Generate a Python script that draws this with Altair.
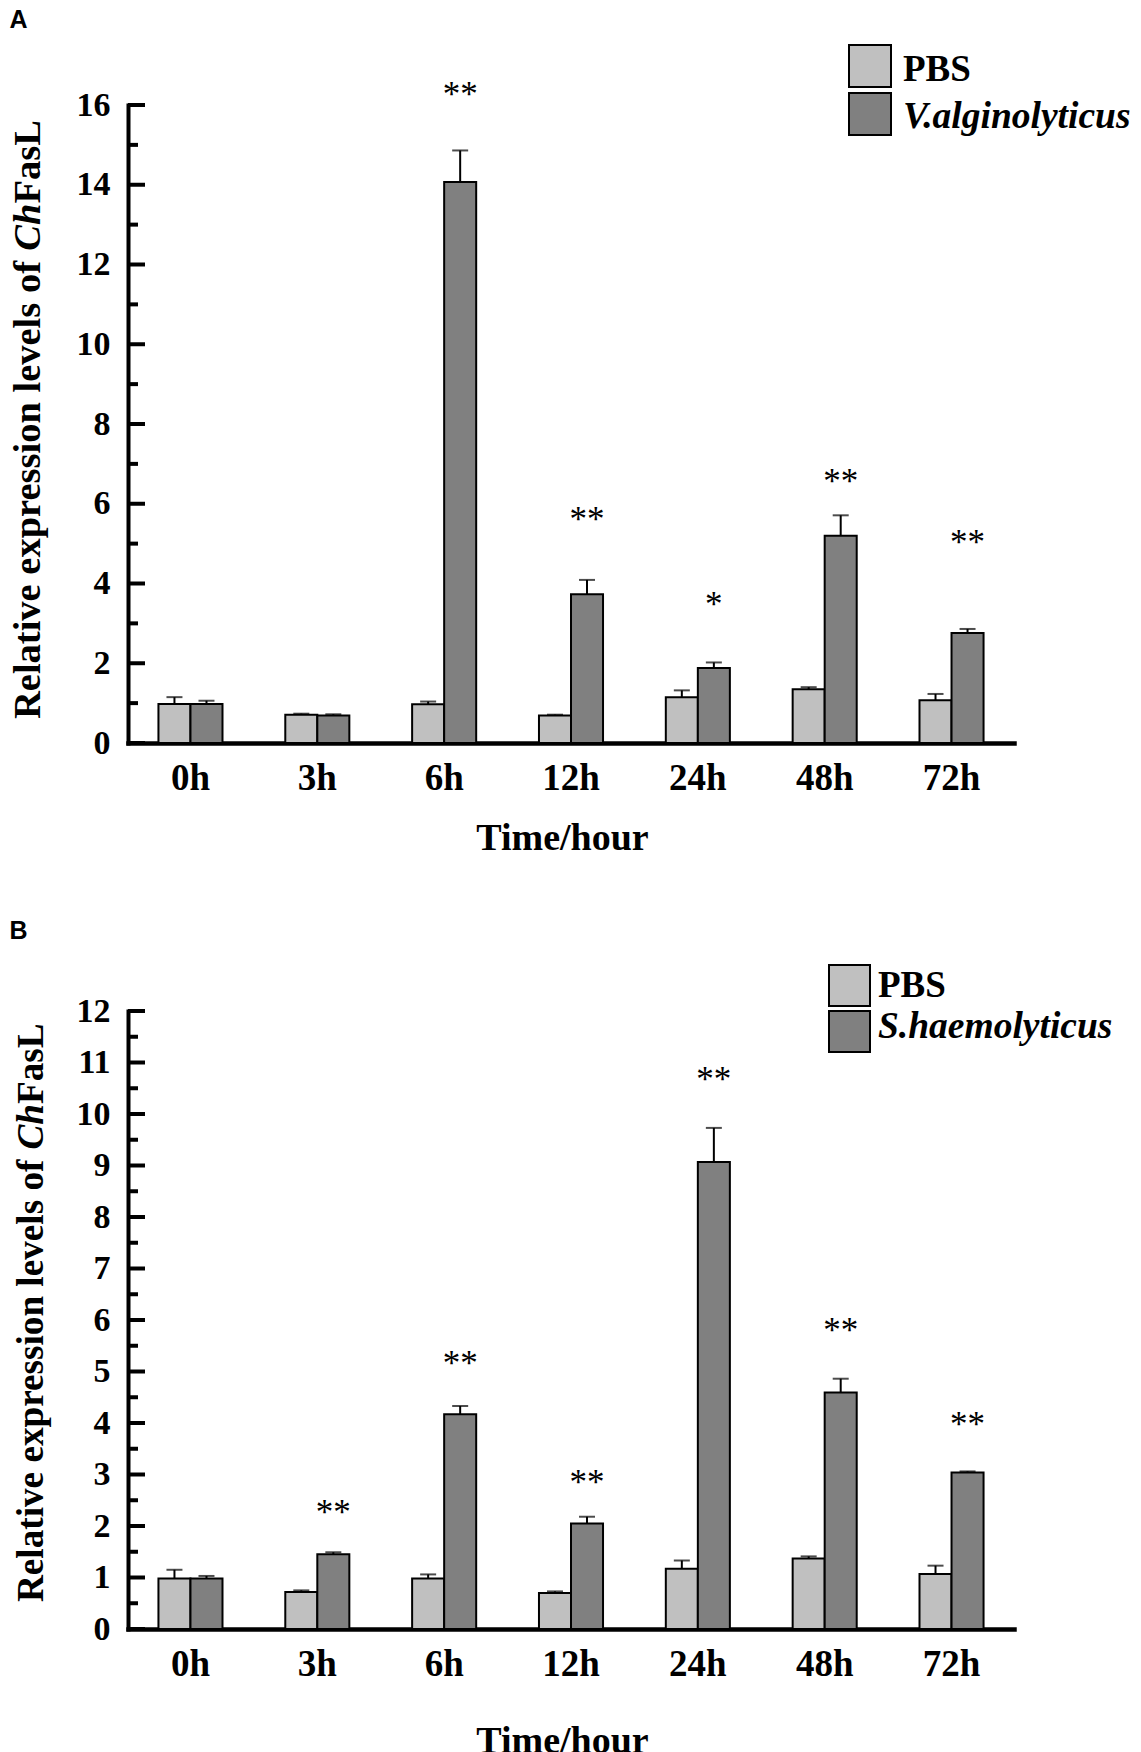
import altair as alt
import pandas as pd

SERIF = "Liberation Serif"
SANS = "Liberation Sans"
LIGHT = "#c0c0c0"
DARK = "#808080"

TIMES = ["0h", "3h", "6h", "12h", "24h", "48h", "72h"]

# Panel A
A_GROUPS = ["PBS", "V.alginolyticus"]
A_PBS = [0.98, 0.71, 0.97, 0.69, 1.15, 1.35, 1.07]
A_PBS_ERR = [0.17, 0.025, 0.07, 0.02, 0.17, 0.05, 0.16]
A_INF = [0.98, 0.69, 14.07, 3.73, 1.88, 5.20, 2.76]
A_INF_ERR = [0.08, 0.03, 0.79, 0.36, 0.14, 0.51, 0.10]
A_STAR_TIMES = ["6h", "12h", "24h", "48h", "72h"]
A_STAR_TEXT = ["**", "**", "*", "**", "**"]
A_STAR_Y = [16.37, 5.71, 3.58, 6.67, 5.14]
A_MAJOR = [0, 2, 4, 6, 8, 10, 12, 14, 16]
A_MINOR = [1, 3, 5, 7, 9, 11, 13, 15]

# Panel B
B_GROUPS = ["PBS", "S.haemolyticus"]
B_PBS = [0.98, 0.72, 0.98, 0.70, 1.17, 1.37, 1.07]
B_PBS_ERR = [0.17, 0.03, 0.08, 0.03, 0.16, 0.04, 0.16]
B_INF = [0.98, 1.45, 4.17, 2.05, 9.07, 4.59, 3.04]
B_INF_ERR = [0.05, 0.04, 0.16, 0.13, 0.66, 0.27, 0.02]
B_STAR_TIMES = ["3h", "6h", "12h", "24h", "48h", "72h"]
B_STAR_TEXT = ["**", "**", "**", "**", "**", "**"]
B_STAR_Y = [2.35, 5.24, 2.94, 10.76, 5.89, 4.05]
B_MAJOR = [0, 1, 2, 3, 4, 5, 6, 7, 8, 9, 10, 11, 12]
B_MINOR = [0.5, 1.5, 2.5, 3.5, 4.5, 5.5, 6.5, 7.5, 8.5, 9.5, 10.5, 11.5]

W = 886

# title em-widths (Times bold / bold italic metrics)
EM_PART1 = 12.165
EM_PART2 = 1.223


def one(text):
    return pd.DataFrame({"t": [text]})


def panel(letter, groups, pbs, pbs_err, inf, inf_err, st_times, st_text, st_y,
          ymax, major, minor, H, lay):
    rows = []
    for i, t in enumerate(TIMES):
        rows.append({"time": t, "group": groups[0], "value": pbs[i], "upper": pbs[i] + pbs_err[i]})
        rows.append({"time": t, "group": groups[1], "value": inf[i], "upper": inf[i] + inf_err[i]})
    df = pd.DataFrame(rows)
    stars = pd.DataFrame({"time": st_times, "group": [groups[1]] * len(st_times),
                          "txt": st_text, "y": st_y})

    xscale = alt.Scale(domain=TIMES, paddingInner=0.495, paddingOuter=0.24)
    yscale = alt.Scale(domain=[0, ymax], nice=False)
    xoff = alt.XOffset("group:N", sort=groups,
                       scale=alt.Scale(domain=groups, paddingInner=0, paddingOuter=0))

    x_axis = alt.Axis(title="Time/hour", labelFont=SERIF, labelFontWeight="bold",
                      labelFontSize=37, labelAngle=0, labelBaseline="alphabetic",
                      labelPadding=lay["xlab"], labelColor="black", ticks=False, tickSize=0,
                      domainColor="black", domainWidth=4.5, domainCap="square",
                      titleFont=SERIF, titleFontSize=38, titleFontWeight="bold",
                      titleColor="black", titleBaseline="alphabetic",
                      titleY=lay["xtitle"], titleX=434, grid=False)
    y_axis = alt.Axis(title=None, values=major, labelFont=SERIF, labelFontWeight="bold",
                      labelFontSize=34, labelPadding=18, labelColor="black",
                      labelBaseline="middle", ticks=False, tickSize=0, domainColor="black",
                      domainWidth=4, domainCap="square", grid=False)

    X = alt.X("time:N", sort=TIMES, scale=xscale, axis=x_axis)

    def Y(f):
        return alt.Y(f, scale=yscale, axis=y_axis)

    bars = alt.Chart(df).mark_bar(stroke="black", strokeWidth=2).encode(
        x=X, xOffset=xoff, y=Y("value:Q"),
        color=alt.Color("group:N", scale=alt.Scale(domain=groups, range=[LIGHT, DARK]), legend=None),
    )
    err = alt.Chart(df).mark_rule(color="black", strokeWidth=2).encode(
        x=X, xOffset=xoff, y=Y("value:Q"), y2="upper:Q")
    cap = alt.Chart(df).mark_tick(color="black", thickness=2, size=16, orient="horizontal").encode(
        x=X, xOffset=xoff, y=Y("upper:Q"))
    star = alt.Chart(stars).mark_text(font=SERIF, fontSize=35, baseline="alphabetic",
                                      dy=16, color="black").encode(
        x=X, xOffset=xoff, y=Y("y:Q"), text="txt:N")

    tmaj = alt.Chart(pd.DataFrame({"v": major})).mark_rule(color="black", strokeWidth=4).encode(
        y=Y("v:Q"), x=alt.value(0), x2=alt.value(17))
    tmin = alt.Chart(pd.DataFrame({"v": minor})).mark_rule(color="black", strokeWidth=4).encode(
        y=Y("v:Q"), x=alt.value(0), x2=alt.value(10))

    fs = lay["tfs"]
    y0 = lay["ty"]
    tx = lay["tx"]
    t1 = alt.Chart(one("Relative expression levels of")).mark_text(
        angle=270, align="left", baseline="alphabetic", font=SERIF, fontSize=fs,
        fontWeight="bold", color="black").encode(x=alt.value(tx), y=alt.value(y0), text="t:N")
    t2 = alt.Chart(one("Ch")).mark_text(
        angle=270, align="left", baseline="alphabetic", font=SERIF, fontSize=fs,
        fontWeight="bold", fontStyle="italic", color="black").encode(
        x=alt.value(tx), y=alt.value(y0 - EM_PART1 * fs), text="t:N")
    t3 = alt.Chart(one("FasL")).mark_text(
        angle=270, align="left", baseline="alphabetic", font=SERIF, fontSize=fs,
        fontWeight="bold", color="black").encode(
        x=alt.value(tx), y=alt.value(y0 - (EM_PART1 + EM_PART2) * fs), text="t:N")

    lg = lay["leg"]
    box1 = alt.Chart(one(groups[0])).mark_rect(fill=LIGHT, stroke="black", strokeWidth=2).encode(
        x=alt.value(lg["bx0"]), x2=alt.value(lg["bx1"]),
        y=alt.value(lg["b1y0"]), y2=alt.value(lg["b1y1"]))
    box2 = alt.Chart(one(groups[1])).mark_rect(fill=DARK, stroke="black", strokeWidth=2).encode(
        x=alt.value(lg["bx0"]), x2=alt.value(lg["bx1"]),
        y=alt.value(lg["b2y0"]), y2=alt.value(lg["b2y1"]))
    lt1 = alt.Chart(one(groups[0])).mark_text(
        align="left", baseline="alphabetic", font=SERIF, fontSize=37, fontWeight="bold",
        color="black").encode(x=alt.value(lg["tx"]), y=alt.value(lg["t1y"]), text="t:N")
    lt2 = alt.Chart(one(groups[1])).mark_text(
        align="left", baseline="alphabetic", font=SERIF, fontSize=37.5, fontWeight="bold",
        fontStyle="italic", color="black").encode(
        x=alt.value(lg["tx"]), y=alt.value(lg["t2y"]), text="t:N")

    lab = alt.Chart(one(letter)).mark_text(
        align="left", baseline="top", font=SANS, fontSize=25, fontWeight="bold",
        color="black").encode(x=alt.value(-118.5), y=alt.value(lay["ly"]), text="t:N")
    anchor = alt.Chart(one("")).mark_rect(opacity=0).encode(
        x=alt.value(-118.5), x2=alt.value(-117.5),
        y=alt.value(lay["ly"]), y2=alt.value(H + lay["bottom"]))

    return alt.layer(bars, err, cap, star, tmaj, tmin, t1, t2, t3,
                     box1, box2, lt1, lt2, lab, anchor).properties(width=W, height=H)


layA = {"xlab": 46.5, "xtitle": 106, "tfs": 38.5, "ty": 614, "tx": -88, "ly": -97,
        "bottom": 130,
        "leg": {"bx0": 721, "bx1": 763, "b1y0": -60, "b1y1": -18, "b2y0": -12, "b2y1": 30,
                "tx": 775, "t1y": -24, "t2y": 23}}
layB = {"xlab": 46.5, "xtitle": 123.5, "tfs": 37.2, "ty": 591, "tx": -84.8, "ly": -92,
        "bottom": 138.5,
        "leg": {"bx0": 701, "bx1": 742, "b1y0": -46, "b1y1": -5, "b2y0": 0, "b2y1": 41,
                "tx": 750, "t1y": -14, "t2y": 27}}

pA = panel("A", A_GROUPS, A_PBS, A_PBS_ERR, A_INF, A_INF_ERR, A_STAR_TIMES, A_STAR_TEXT,
           A_STAR_Y, 16, A_MAJOR, A_MINOR, 638, layA)
pB = panel("B", B_GROUPS, B_PBS, B_PBS_ERR, B_INF, B_INF_ERR, B_STAR_TIMES, B_STAR_TEXT,
           B_STAR_Y, 12, B_MAJOR, B_MINOR, 618, layB)

chart = alt.vconcat(pA, pB, spacing=46).resolve_scale(
    color="independent", xOffset="independent", x="independent", y="independent"
).properties(
    padding=0, background="white"
).configure_view(stroke=None)

chart.save("out.html", embed_options={"renderer": "svg", "actions": False})
